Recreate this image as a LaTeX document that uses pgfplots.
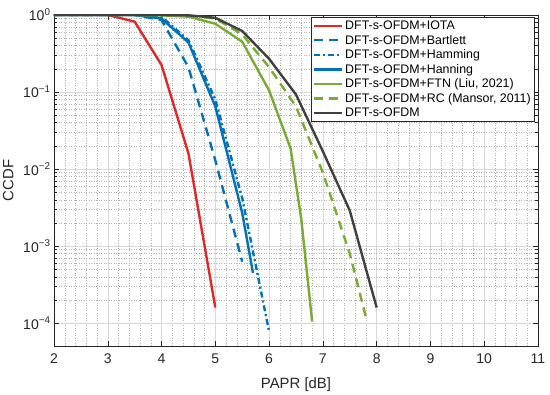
\documentclass[border=0pt]{standalone}
\usepackage{fontspec}
\setmainfont{Liberation Sans}
\usepackage{pgfplots}
\pgfplotsset{compat=1.18}
\definecolor{mred}{RGB}{227,38,38}
\definecolor{mblue}{RGB}{0,114,189}
\definecolor{mgreen}{RGB}{119,172,48}
\definecolor{mblack}{RGB}{64,64,64}
\definecolor{axgray}{RGB}{38,38,38}
\begin{document}
\begin{tikzpicture}
\useasboundingbox (-54pt,-49pt) rectangle (496pt,346pt);
\begin{axis}[
  at={(0pt,0pt)}, anchor=south west,
  scale only axis, width=484pt, height=331pt,
  xmin=2, xmax=11, ymode=log, ymin=5.07e-5, ymax=1,
  xtick={2,3,4,5,6,7,8,9,10,11},
  ytick={1e-4,1e-3,1e-2,1e-1,1},
  yticklabels={10\textsuperscript{−4},10\textsuperscript{−3},10\textsuperscript{−2},10\textsuperscript{−1},10\textsuperscript{0}},
  minor x tick num=4,
  grid=both,
  major grid style={line width=0.5pt, draw=black!15},
  minor grid style={line width=0.5pt, draw=black!30, dotted},
  tick align=inside,
  major tick length=5pt, minor tick length=3pt,
  minor x tick style={draw=none},
  axis line style={draw=axgray, line width=0.6pt},
  every tick/.append style={draw=axgray, line width=0.5pt},
  /pgf/number format/assume math mode=true,
  ticklabel style={font=\fontsize{14}{16}\selectfont, text=axgray},
  xticklabel style={yshift=-4pt},
  xlabel={PAPR [dB]}, ylabel={CCDF},
  label style={font=\fontsize{14.9}{17}\selectfont, text=axgray},
  xlabel style={at={(axis description cs:0.5,0)}, anchor=north, yshift=-28pt},
  ylabel style={at={(axis description cs:0,0.5)}, anchor=south, yshift=37pt},
  legend style={at={(axis description cs:1,1)}, anchor=north east, xshift=-3pt, yshift=-2pt,
    font=\fontsize{12.4}{14}\selectfont, draw=axgray, line width=0.6pt, fill=white,
    inner xsep=2pt, inner ysep=1.5pt, cells={anchor=west}, row sep=0.1pt},
  legend image code/.code={\draw[#1, line width=2.4pt] (0pt,0pt) -- (28pt,0pt);},
  every axis plot/.append style={line width=2.4pt, line join=round},
]
\addplot[mred] coordinates {(2,1) (2.5,1) (3,1) (3.5,0.82) (4,0.224) (4.5,0.016) (5,1.6e-4)};
\addlegendentry{DFT-s-OFDM+IOTA}
\addplot[mblue, dash pattern=on 9pt off 6pt] coordinates {(2,1) (2.5,1) (3,1) (3.5,1) (4,0.86) (4.5,0.21) (5,0.013) (5.5,6.3e-4)};
\addlegendentry{DFT-s-OFDM+Bartlett}
\addplot[mblue, dash pattern=on 6pt off 3pt on 2pt off 3pt] coordinates {(2,1) (2.5,1) (3,1) (3.5,1) (4,0.95) (4.5,0.47) (5,0.08) (5.5,0.0042) (6,7.8e-5)};
\addlegendentry{DFT-s-OFDM+Hamming}
\addplot[mblue] coordinates {(2,1) (2.5,1) (3,1) (3.5,1) (4,0.9) (4.5,0.44) (5,0.065) (5.5,0.0027) (5.7,4.5e-4)};
\addlegendentry{DFT-s-OFDM+Hanning}
\addplot[mgreen] coordinates {(2,1) (3,1) (3.5,1) (4,0.99) (4.5,0.95) (5,0.77) (5.5,0.45) (6,0.105) (6.4,0.0185) (6.6,0.0022) (6.8,1.05e-4)};
\addlegendentry{DFT-s-OFDM+FTN (Liu, 2021)}
\addplot[mgreen, dash pattern=on 9pt off 6pt] coordinates {(2,1) (3,1) (4,1) (4.5,0.98) (5,0.9) (5.5,0.56) (6,0.21) (6.5,0.065) (7,0.009) (7.5,8e-4) (7.8,1.2e-4)};
\addlegendentry{DFT-s-OFDM+RC (Mansor, 2011)}
\addplot[mblack] coordinates {(2,1) (3,1) (4,1) (4.5,0.99) (5,0.92) (5.5,0.62) (6,0.27) (6.5,0.093) (7,0.017) (7.5,0.0029) (8,1.6e-4)};
\addlegendentry{DFT-s-OFDM}
\end{axis}
\end{tikzpicture}
\end{document}
